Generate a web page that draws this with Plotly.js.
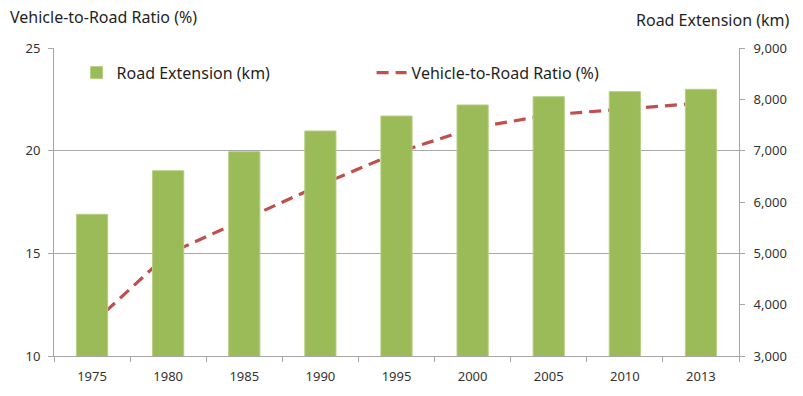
<!DOCTYPE html>
<html>
<head>
<meta charset="utf-8">
<script src="https://cdn.plot.ly/plotly-3.0.1.min.js"></script>
<style>html,body{margin:0;padding:0;background:#fff;}#chart{width:803px;height:396px;}</style>
</head>
<body>
<div id="chart"></div>
<script>
const years = ['1975','1980','1985','1990','1995','2000','2005','2010','2013'];
const roadExtension = [5760, 6610, 6980, 7383, 7675, 7890, 8052, 8150, 8195];
const vehicleToRoadRatio = [11.56, 14.97, 16.65, 18.33, 19.89, 21.1, 21.74, 22.03, 22.32];

const fontFam = '"Noto Sans", "Open Sans", sans-serif';
const traces = [
  {
    type: 'bar', name: 'Road Extension (km)', x: years, y: roadExtension,
    yaxis: 'y2', marker: {color: '#9bbb59', line: {color: '#b5cf83', width: 1}},
    hoverinfo: 'skip'
  },
  {
    type: 'scatter', mode: 'lines', name: 'Vehicle-to-Road Ratio (%)', x: years, y: vehicleToRoadRatio,
    yaxis: 'y', line: {color: '#c0504d', width: 3.2, dash: '12px,7px'},
    hoverinfo: 'skip'
  }
];
const layout = {
  width: 803, height: 396,
  margin: {l: 54, r: 64, t: 48, b: 40},
  paper_bgcolor: '#ffffff', plot_bgcolor: '#ffffff',
  font: {family: fontFam, size: 13, color: '#333333'},
  showlegend: true,
  bargap: 0.59,
  legend: {orientation: 'h', x: 0.033, y: 0.975, xanchor: 'left', yanchor: 'top',
    font: {family: fontFam, size: 16, color: '#1f1f1f'}, bgcolor: 'rgba(0,0,0,0)',
    entrywidth: 250, entrywidthmode: 'pixels', traceorder: 'normal'},
  xaxis: {
    type: 'category', showgrid: false, showline: true, linecolor: '#a6a6a6', linewidth: 1,
    ticks: 'outside', tickson: 'boundaries', ticklen: 5, tickcolor: '#a6a6a6', ticklabelstandoff: 8,
    tickfont: {size: 13, color: '#333333'}, zeroline: false, fixedrange: true
  },
  yaxis: {
    range: [10, 25], tickvals: [10, 15, 20, 25], showgrid: true, gridcolor: '#a6aaaa', gridwidth: 1,
    showline: true, linecolor: '#a6a6a6', ticks: 'outside', ticklen: 5, tickcolor: '#a6a6a6', ticklabelstandoff: 5,
    tickfont: {size: 13, color: '#333333'}, zeroline: false
  },
  yaxis2: {
    overlaying: 'y', side: 'right', range: [3000, 9000], dtick: 1000, tickformat: ',d',
    showgrid: false, showline: true, linecolor: '#a6a6a6', ticks: 'outside', ticklen: 5, tickcolor: '#a6a6a6', ticklabelstandoff: 6,
    tickfont: {size: 13, color: '#333333'}, zeroline: false
  },
  annotations: [
    {text: 'Vehicle-to-Road Ratio (%)', xref: 'paper', yref: 'paper', x: 0, y: 1, xanchor: 'left', yanchor: 'bottom',
     xshift: -46, yshift: 18, showarrow: false, font: {family: fontFam, size: 16, color: '#1f1f1f'}},
    {text: 'Road Extension (km)', xref: 'paper', yref: 'paper', x: 1, y: 1, xanchor: 'right', yanchor: 'bottom',
     xshift: 52, yshift: 15, showarrow: false, font: {family: fontFam, size: 16, color: '#1f1f1f'}}
  ]
};
Plotly.newPlot('chart', traces, layout, {displayModeBar: false, staticPlot: true});
</script>
</body>
</html>
